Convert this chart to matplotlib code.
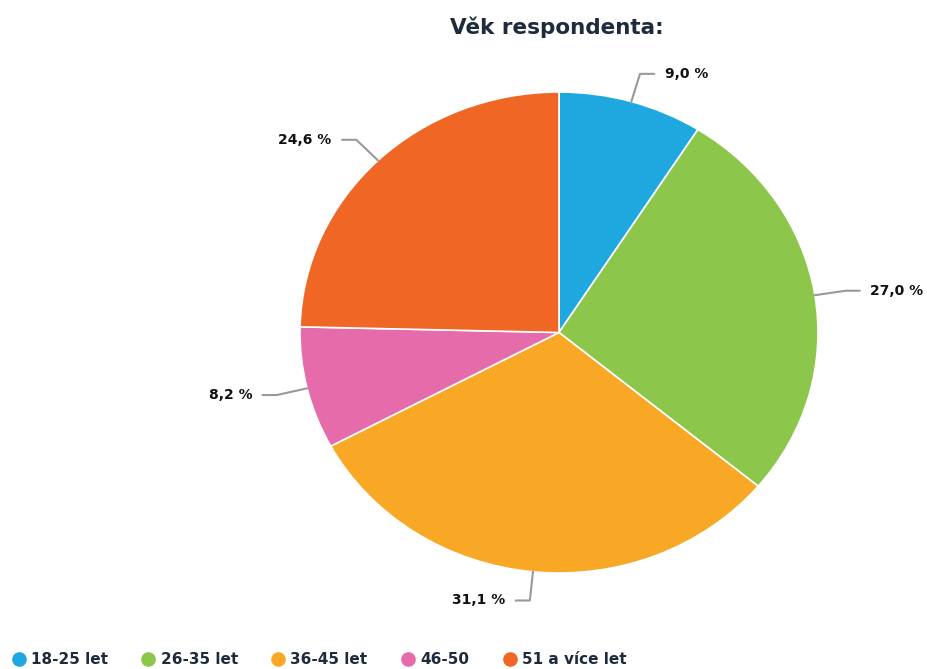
import matplotlib.pyplot as plt
from matplotlib.lines import Line2D
import numpy as np

# data
categories = ["18-25 let", "26-35 let", "36-45 let", "46-50", "51 a více let"]
values = [9.0, 27.0, 31.1, 8.2, 24.6]
labels = ["9,0 %", "27,0 %", "31,1 %", "8,2 %", "24,6 %"]
colors = ["#1fa8e0", "#8cc64b", "#f9a825", "#e66bab", "#f06624"]

W, H = 927, 669
fig = plt.figure(figsize=(W / 100, H / 100), dpi=100)

# pie is a bit wider than tall in the reference
ax = fig.add_axes([300 / W, (H - 573) / H, 518 / W, 481 / H])
wedges, _ = ax.pie(values, colors=colors, startangle=90, counterclock=False,
                   wedgeprops=dict(edgecolor="white", linewidth=1.2))
ax.set_aspect("auto")
ax.set_xlim(-1, 1)
ax.set_ylim(-1, 1)

# labels with connector lines
for w, lab in zip(wedges, labels):
    ang = np.deg2rad((w.theta1 + w.theta2) / 2)
    c, s = np.cos(ang), np.sin(ang)
    x0, y0 = c, s
    x1, y1 = 1.12 * c, 1.12 * s
    side = 1 if c >= 0 else -1
    x2 = x1 + side * 0.055
    ax.plot([x0, x1, x2], [y0, y1, y1], color="#999999", lw=1.5,
            clip_on=False, solid_capstyle="round")
    ax.text(x2 + side * 0.04, y1, lab, ha="left" if side > 0 else "right",
            va="center", fontsize=10, fontweight="bold", color="#111111")

fig.text(557 / W, 1 - 27 / H, "Věk respondenta:", ha="center", va="center",
         fontsize=15.5, fontweight="bold", color="#1d2b3c")

handles = [Line2D([], [], marker="o", ls="", markersize=9.5, color=col)
           for col in colors]
fig.legend(handles, categories, loc="lower left", bbox_to_anchor=(-0.003, -0.018),
           ncol=5, frameon=False, handletextpad=0.3, columnspacing=2.15,
           handlelength=1.0, prop=dict(size=11, weight="bold"),
           labelcolor="#1d2b3c")

fig.savefig("out.png", dpi=100)
